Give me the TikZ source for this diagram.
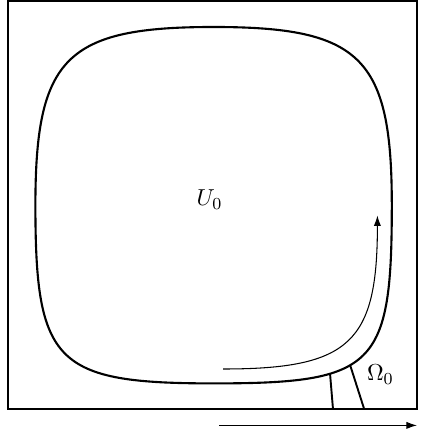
\documentclass[tikz,border=0pt]{standalone}
\usetikzlibrary{arrows.meta}

\begin{document}
\begin{tikzpicture}[line width=0.9pt,font=\fontsize{11}{13}\selectfont,>={Latex[length=5pt,width=3.4pt]}]
\useasboundingbox (-3.56,-3.78) rectangle (3.56,3.42);
% outer box
\draw (-3.42,-3.40) rectangle (3.39,3.40);
% boundary of U_0
\draw[line width=1pt] (0,-2.97)
  .. controls (2.70,-2.97) and (2.97,-2.70) .. (2.97,0)
     coordinate[pos=0.326] (omL) coordinate[pos=0.42] (omR)
  .. controls (2.97,2.46) and (2.46,2.97) .. (0,2.97)
  .. controls (-2.46,2.97) and (-2.97,2.46) .. (-2.97,0)
  .. controls (-2.97,-2.64) and (-2.64,-2.97) .. (0,-2.97) -- cycle;
% strip Omega_0 down to the box
\coordinate (botL) at (1.99,-3.40);
\coordinate (botR) at (2.51,-3.40);
\draw (omL) -- (botL);
\draw (omR) -- (botR);
% labels
\node (U) at (-0.07,0.09) {$U_0$};
\node (Om) at (2.78,-2.82) {$\Omega_0$};
% flow along the boundary
\coordinate (flowA) at (0.16,-2.73);
\coordinate (flowB) at (2.73,-0.17);
\draw[->,line width=0.5pt] (flowA) .. controls (2.28,-2.73) and (2.73,-2.28) .. (flowB);
% direction below the box
\coordinate (dirA) at (0.09,-3.67);
\coordinate (dirB) at (3.39,-3.67);
\draw[->,line width=0.5pt] (dirA) -- (dirB);
\end{tikzpicture}
\end{document}
